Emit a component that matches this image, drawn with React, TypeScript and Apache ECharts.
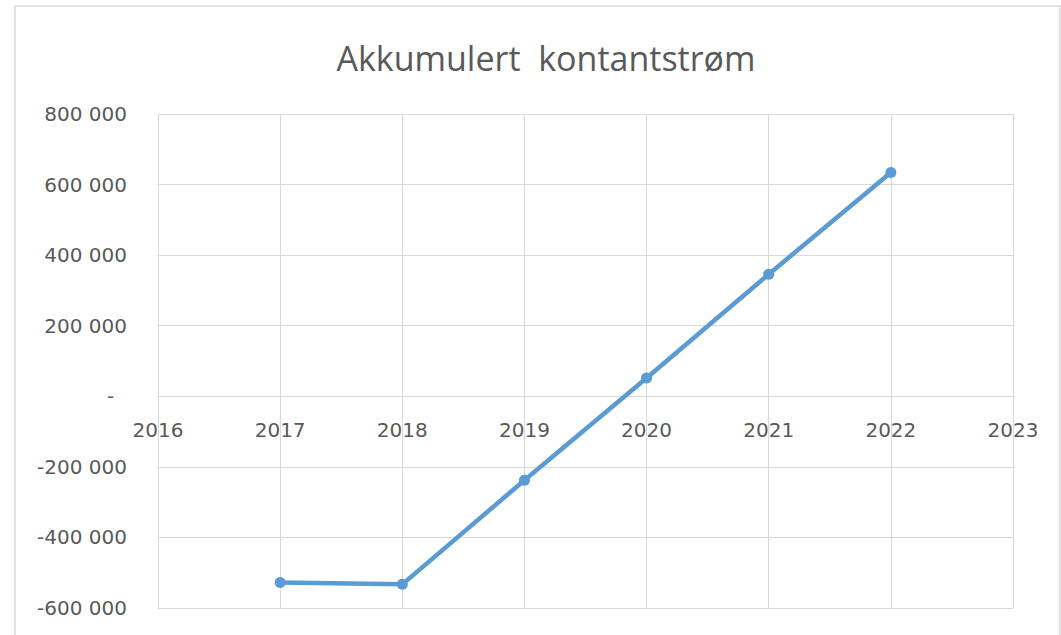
import React, { useEffect, useRef } from "react";
import * as echarts from "echarts";

const title = "Akkumulert  kontantstrøm";
const years = [2017, 2018, 2019, 2020, 2021, 2022];
const values = [-528000, -533000, -238000, 52000, 346000, 634000];
const xMin = 2016;
const xMax = 2023;
const yMin = -600000;
const yMax = 800000;
const yStep = 200000;

const fmt = (v: number) => {
  if (v === 0) return "-  ";
  const s = Math.abs(v).toString().replace(/\B(?=(\d{3})+(?!\d))/g, " ");
  return (v < 0 ? "-" : "") + s;
};

export default function App() {
  const ref = useRef<HTMLDivElement>(null);
  useEffect(() => {
    document.body.style.margin = "0";
    const chart = echarts.init(ref.current!, undefined, { renderer: "svg" });
    const textColor = "#595959";
    const gridColor = "#d9d9d9";
    const labelFont = "DejaVu Sans";
    const H = 635;
    const gTop = 114;
    const gBottom = 27;
    const plotH = H - gTop - gBottom;
    // distance from bottom of plot to the zero line (axis crosses at zero)
    const zeroOffset = (plotH * (0 - yMin)) / (yMax - yMin);
    chart.setOption({
      animation: false,
      backgroundColor: "#ffffff",
      textStyle: { fontFamily: "Open Sans" },
      title: {
        text: title,
        left: 541,
        textAlign: "center",
        top: 36,
        textStyle: { color: textColor, fontSize: 34, fontWeight: "normal", fontFamily: "Open Sans" },
      },
      graphic: [
        {
          type: "rect",
          shape: { x: 15, y: 6, width: 1045, height: 640 },
          style: { fill: "none", stroke: gridColor, lineWidth: 1.5 },
          silent: true,
        },
      ],
      grid: { left: 158, right: 48, top: gTop, bottom: gBottom, containLabel: false },
      xAxis: {
        type: "value",
        min: xMin,
        max: xMax,
        interval: 1,
        position: "bottom",
        offset: -zeroOffset,
        axisLine: { show: true, onZero: false, lineStyle: { color: gridColor, width: 1 } },
        axisTick: { show: false },
        splitLine: { show: true, lineStyle: { color: gridColor, width: 1 } },
        axisLabel: {
          color: textColor,
          fontSize: 20,
          fontFamily: labelFont,
          margin: 24,
          formatter: (v: number) => String(v),
        },
      },
      yAxis: {
        type: "value",
        min: yMin,
        max: yMax,
        interval: yStep,
        axisLine: { show: false, onZero: false },
        axisTick: { show: false },
        splitLine: { show: true, lineStyle: { color: gridColor, width: 1 } },
        axisLabel: { color: textColor, fontSize: 20, fontFamily: labelFont, margin: 31, formatter: fmt },
      },
      series: [
        {
          type: "line",
          data: years.map((y, i) => [y, values[i]]),
          lineStyle: { color: "#5b9bd5", width: 4.5 },
          itemStyle: { color: "#5b9bd5" },
          symbol: "circle",
          symbolSize: 11,
          showSymbol: true,
        },
      ],
    });
    return () => chart.dispose();
  }, []);
  return <div ref={ref} style={{ width: 1061, height: 635 }} />;
}
